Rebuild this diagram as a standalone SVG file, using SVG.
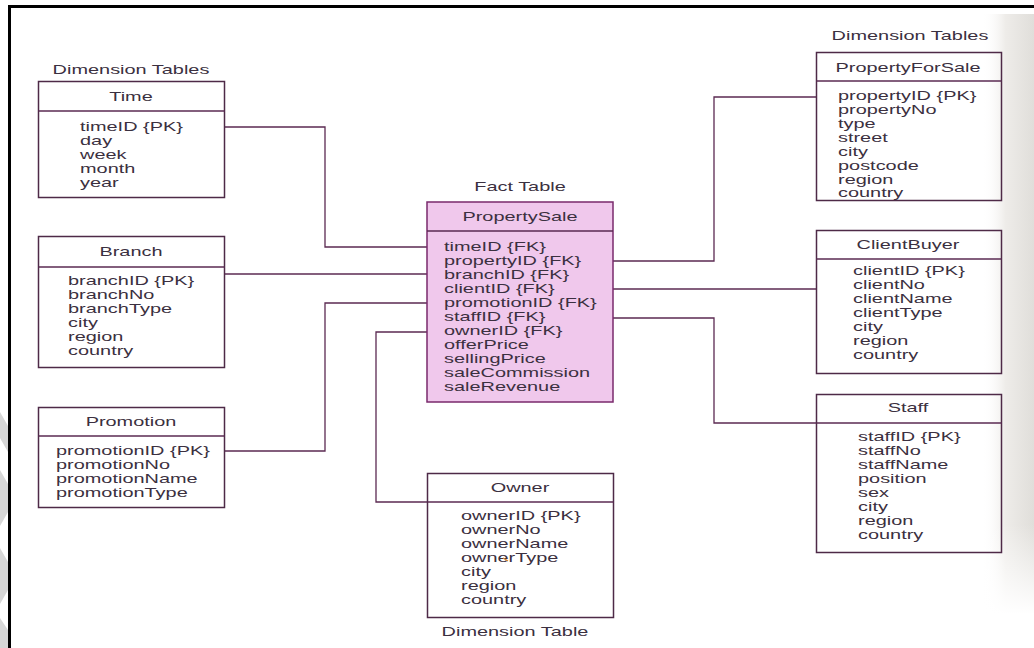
<svg xmlns="http://www.w3.org/2000/svg" width="1034" height="648" viewBox="0 0 1034 648">
  <defs>
    <style>
      text { font-family: "Liberation Sans", Arial, sans-serif; font-size: 12px; fill: #3b3040; }
      .hd { text-anchor: middle; }
      .box { fill: none; stroke: #4e2a47; stroke-width: 1.5; }
      .fact { fill: #f0c8ec; stroke: #7a2a6c; stroke-width: 1.5; }
      .div { stroke: #5a2a52; stroke-width: 1.3; }
      .conn { fill: none; stroke: #5b2a52; stroke-width: 1.3; }
    </style>
    <linearGradient id="paperEdge" x1="0" y1="0" x2="1" y2="0">
      <stop offset="0" stop-color="#ffffff" stop-opacity="0"/>
      <stop offset="0.45" stop-color="#eeece9"/>
      <stop offset="1" stop-color="#e0deda"/>
    </linearGradient>
    <linearGradient id="paperFade" x1="0" y1="0" x2="0" y2="1">
      <stop offset="0" stop-color="#fff" stop-opacity="0"/>
      <stop offset="0.85" stop-color="#fff" stop-opacity="0"/>
      <stop offset="1" stop-color="#fff" stop-opacity="1"/>
    </linearGradient>
  </defs>

  <rect width="1034" height="648" fill="#ffffff"/>
  <!-- page edge shading on the right -->
  <rect x="982" y="14" width="52" height="600" fill="url(#paperEdge)"/>
  <rect x="982" y="14" width="52" height="600" fill="url(#paperFade)"/>

  <!-- grey marks outside the frame -->
  <g fill="#d6d6d6">
    <polygon points="0,412 8,426 8,452 0,438"/>
    <polygon points="0,470 8,484 8,512 0,526"/>
    <polygon points="0,548 8,562 8,590 0,604"/>
    <polygon points="0,618 8,630 8,648 0,648"/>
  </g>

  <!-- frame -->
  <path d="M9.5,648 V6.5 H1034" fill="none" stroke="#000" stroke-width="3"/>

  <!-- connectors -->
  <g id="connectors" class="conn">
    <path d="M224,127 H325 V247 H427"/>
    <path d="M224,274 H427"/>
    <path d="M224,451 H325 V303 H427"/>
    <path d="M427,332 H376 V502 H427"/>
    <path d="M613,261 H714 V97 H816"/>
    <path d="M613,289 H816"/>
    <path d="M613,318 H714 V423 H816"/>
  </g>

  <!-- Time -->
  <g id="time">
    <g transform="translate(131 0) scale(1.66 1)"><text class="hd" x="0" y="74">Dimension Tables</text></g>
    <rect class="box" x="38.5" y="81.5" width="186" height="116"/>
    <line class="div" x1="38.5" y1="111" x2="224.5" y2="111"/>
    <g transform="translate(131 0) scale(1.66 1)"><text class="hd" x="0" y="101">Time</text></g>
    <g transform="translate(80 0) scale(1.66 1)">
      <text x="0" y="131">timeID {PK}</text>
      <text x="0" y="145">day</text>
      <text x="0" y="159">week</text>
      <text x="0" y="173">month</text>
      <text x="0" y="187">year</text>
    </g>
  </g>

  <!-- Branch -->
  <g id="branch">
    <rect class="box" x="38.5" y="236.5" width="186" height="131"/>
    <line class="div" x1="38.5" y1="267" x2="224.5" y2="267"/>
    <g transform="translate(131 0) scale(1.66 1)"><text class="hd" x="0" y="256">Branch</text></g>
    <g transform="translate(68 0) scale(1.66 1)">
      <text x="0" y="285">branchID {PK}</text>
      <text x="0" y="299">branchNo</text>
      <text x="0" y="313">branchType</text>
      <text x="0" y="327">city</text>
      <text x="0" y="341">region</text>
      <text x="0" y="355">country</text>
    </g>
  </g>

  <!-- Promotion -->
  <g id="promotion">
    <rect class="box" x="38.5" y="407.5" width="186" height="100"/>
    <line class="div" x1="38.5" y1="436" x2="224.5" y2="436"/>
    <g transform="translate(131 0) scale(1.66 1)"><text class="hd" x="0" y="426">Promotion</text></g>
    <g transform="translate(56 0) scale(1.66 1)">
      <text x="0" y="455">promotionID {PK}</text>
      <text x="0" y="469">promotionNo</text>
      <text x="0" y="483">promotionName</text>
      <text x="0" y="497">promotionType</text>
    </g>
  </g>

  <!-- PropertySale (fact) -->
  <g id="property-sale">
    <g transform="translate(520 0) scale(1.66 1)"><text class="hd" x="0" y="191">Fact Table</text></g>
    <rect class="fact" x="427" y="202" width="186" height="200"/>
    <line class="div" x1="427" y1="231" x2="613" y2="231" stroke="#6a2a5e"/>
    <g transform="translate(520 0) scale(1.66 1)"><text class="hd" x="0" y="221">PropertySale</text></g>
    <g transform="translate(444 0) scale(1.66 1)">
      <text x="0" y="251">timeID {FK}</text>
      <text x="0" y="265">propertyID {FK}</text>
      <text x="0" y="279">branchID {FK}</text>
      <text x="0" y="293">clientID {FK}</text>
      <text x="0" y="307">promotionID {FK}</text>
      <text x="0" y="321">staffID {FK}</text>
      <text x="0" y="335">ownerID {FK}</text>
      <text x="0" y="349">offerPrice</text>
      <text x="0" y="363">sellingPrice</text>
      <text x="0" y="377">saleCommission</text>
      <text x="0" y="391">saleRevenue</text>
    </g>
  </g>

  <!-- PropertyForSale -->
  <g id="property-for-sale">
    <g transform="translate(910 0) scale(1.66 1)"><text class="hd" x="0" y="40">Dimension Tables</text></g>
    <rect class="box" x="816.5" y="52.5" width="185" height="148"/>
    <line class="div" x1="816.5" y1="81" x2="1001.5" y2="81"/>
    <g transform="translate(908 0) scale(1.66 1)"><text class="hd" x="0" y="72">PropertyForSale</text></g>
    <g transform="translate(838 0) scale(1.66 1)">
      <text x="0" y="100">propertyID {PK}</text>
      <text x="0" y="114">propertyNo</text>
      <text x="0" y="128">type</text>
      <text x="0" y="142">street</text>
      <text x="0" y="156">city</text>
      <text x="0" y="170">postcode</text>
      <text x="0" y="184">region</text>
      <text x="0" y="197">country</text>
    </g>
  </g>

  <!-- ClientBuyer -->
  <g id="client-buyer">
    <rect class="box" x="816.5" y="230.5" width="185" height="143"/>
    <line class="div" x1="816.5" y1="259" x2="1001.5" y2="259"/>
    <g transform="translate(908 0) scale(1.66 1)"><text class="hd" x="0" y="249">ClientBuyer</text></g>
    <g transform="translate(853 0) scale(1.66 1)">
      <text x="0" y="275">clientID {PK}</text>
      <text x="0" y="289">clientNo</text>
      <text x="0" y="303">clientName</text>
      <text x="0" y="317">clientType</text>
      <text x="0" y="331">city</text>
      <text x="0" y="345">region</text>
      <text x="0" y="359">country</text>
    </g>
  </g>

  <!-- Staff -->
  <g id="staff">
    <rect class="box" x="816.5" y="394.5" width="185" height="158"/>
    <line class="div" x1="816.5" y1="423" x2="1001.5" y2="423"/>
    <g transform="translate(908 0) scale(1.66 1)"><text class="hd" x="0" y="412">Staff</text></g>
    <g transform="translate(858 0) scale(1.66 1)">
      <text x="0" y="441">staffID {PK}</text>
      <text x="0" y="455">staffNo</text>
      <text x="0" y="469">staffName</text>
      <text x="0" y="483">position</text>
      <text x="0" y="497">sex</text>
      <text x="0" y="511">city</text>
      <text x="0" y="525">region</text>
      <text x="0" y="539">country</text>
    </g>
  </g>

  <!-- Owner -->
  <g id="owner">
    <rect class="box" x="427.5" y="473.5" width="186" height="144"/>
    <line class="div" x1="427.5" y1="502" x2="613.5" y2="502"/>
    <g transform="translate(520 0) scale(1.66 1)"><text class="hd" x="0" y="492">Owner</text></g>
    <g transform="translate(461 0) scale(1.66 1)">
      <text x="0" y="520">ownerID {PK}</text>
      <text x="0" y="534">ownerNo</text>
      <text x="0" y="548">ownerName</text>
      <text x="0" y="562">ownerType</text>
      <text x="0" y="576">city</text>
      <text x="0" y="590">region</text>
      <text x="0" y="604">country</text>
    </g>
    <path d="M503,558 l5,3" stroke="#d9822b" stroke-width="1.3" fill="none"/>
    <g transform="translate(515 0) scale(1.66 1)"><text class="hd" x="0" y="636">Dimension Table</text></g>
  </g>
</svg>
